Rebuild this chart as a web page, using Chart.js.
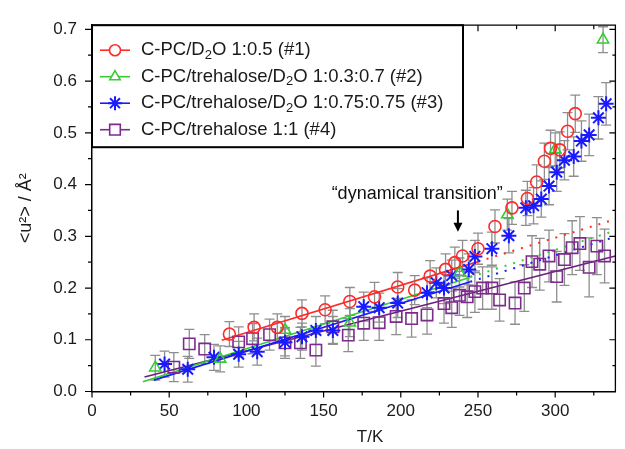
<!DOCTYPE html>
<html>
<head>
<meta charset="utf-8">
<style>
  html, body { margin: 0; padding: 0; background: #fff; }
  #wrap { width: 625px; height: 449px; }
</style>
<script src="https://cdn.jsdelivr.net/npm/chart.js"></script>
</head>
<body>
<div id="wrap"><canvas id="plot" width="625" height="449"></canvas></div>
<script>
  // --- axis ticks ---
  const xTicks = [0, 50, 100, 150, 200, 250, 300];
  const yTicks = [0, 0.1, 0.2, 0.3, 0.4, 0.5, 0.6, 0.7];

  // --- #1 C-PC/D2O 1:0.5 ---
  const redT   = [89, 105, 120, 136, 151, 167, 183, 198, 209, 219, 229, 235, 240, 250, 261, 272, 282, 288, 293, 297, 303, 308, 313];
  const redU   = [0.111, 0.124, 0.124, 0.151, 0.158, 0.174, 0.183, 0.202, 0.196, 0.223, 0.236, 0.249, 0.262, 0.276, 0.319, 0.355, 0.373, 0.405, 0.445, 0.470, 0.467, 0.503, 0.537];
  const redErr = [0.024, 0.026, 0.026, 0.026, 0.027, 0.027, 0.028, 0.028, 0.028, 0.030, 0.030, 0.030, 0.030, 0.030, 0.032, 0.032, 0.033, 0.033, 0.035, 0.035, 0.035, 0.036, 0.036];

  // --- #2 C-PC/trehalose/D2O 1:0.3:0.7 ---
  const greenT   = [41, 83, 125, 167, 238, 269, 300, 331];
  const greenU   = [0.046, 0.063, 0.119, 0.133, 0.230, 0.342, 0.468, 0.680];
  const greenErr = [0.024, 0.025, 0.026, 0.027, 0.028, 0.030, 0.032, 0.025];

  // --- #3 C-PC/trehalose/D2O 1:0.75:0.75 ---
  const blueT   = [47, 62, 79, 95, 107, 125, 136, 145, 156, 176, 186, 198, 217, 223, 228, 233, 244, 248, 259, 270, 281, 286, 291, 296, 301, 306, 312, 317, 322, 328, 333];
  const blueU   = [0.053, 0.043, 0.066, 0.072, 0.077, 0.095, 0.106, 0.118, 0.118, 0.164, 0.162, 0.171, 0.191, 0.210, 0.200, 0.224, 0.236, 0.261, 0.276, 0.301, 0.355, 0.359, 0.372, 0.397, 0.424, 0.447, 0.454, 0.484, 0.496, 0.529, 0.556];
  const blueErr = [0.025, 0.025, 0.025, 0.025, 0.026, 0.026, 0.026, 0.027, 0.027, 0.028, 0.028, 0.028, 0.029, 0.029, 0.030, 0.030, 0.030, 0.031, 0.032, 0.033, 0.034, 0.035, 0.035, 0.036, 0.037, 0.038, 0.038, 0.039, 0.040, 0.041, 0.041];

  // --- #4 C-PC/trehalose 1:1 ---
  const purpleT   = [53, 63, 73, 95, 104, 115, 125, 135, 145, 156, 166, 176, 186, 197, 207, 217, 228, 233, 238, 243, 248, 253, 259, 264, 274, 280, 285, 290, 296, 301, 306, 311, 316, 322, 327, 332];
  const purpleU   = [0.047, 0.092, 0.082, 0.096, 0.102, 0.110, 0.094, 0.094, 0.080, 0.125, 0.109, 0.132, 0.133, 0.145, 0.141, 0.148, 0.170, 0.162, 0.186, 0.183, 0.193, 0.200, 0.200, 0.177, 0.171, 0.200, 0.251, 0.246, 0.262, 0.222, 0.255, 0.278, 0.286, 0.240, 0.281, 0.262];
  const purpleErr = [0.028, 0.028, 0.028, 0.029, 0.029, 0.030, 0.030, 0.030, 0.031, 0.032, 0.032, 0.033, 0.034, 0.035, 0.036, 0.037, 0.038, 0.038, 0.039, 0.040, 0.040, 0.041, 0.041, 0.041, 0.041, 0.045, 0.050, 0.050, 0.050, 0.049, 0.050, 0.052, 0.052, 0.057, 0.055, 0.052];

  // --- linear fits (solid) and their extrapolations (dotted) ---
  const redFitT = [84, 250],    redFitU = [0.099, 0.251];
  const redDotT = [250, 339],   redDotU = [0.251, 0.333];
  const greenFitT = [33, 245],  greenFitU = [0.019, 0.221];
  const greenDotT = [245, 339], greenDotU = [0.221, 0.311];
  const blueFitT = [40, 245],   blueFitU = [0.022, 0.212];
  const blueDotT = [245, 339],  blueDotU = [0.212, 0.299];
  const purpleFitT = [34, 339], purpleFitU = [0.028, 0.262];

  const legendLabels = [
    'C-PC/D₂O 1:0.5 (#1)',
    'C-PC/trehalose/D₂O 1:0.3:0.7 (#2)',
    'C-PC/trehalose/D₂O 1:0.75:0.75 (#3)',
    'C-PC/trehalose 1:1 (#4)'
  ];

  const FONT = '"Liberation Sans", Arial, sans-serif';
  const pts = (xs, ys) => xs.map((x, i) => ({ x: x, y: ys[i] }));

  const series = [
    { color: '#ff2a2a', style: 'circle',   r: 6,   T: redT,    U: redU,    err: redErr },
    { color: '#33cc33', style: 'triangle', r: 6.5, T: greenT,  U: greenU,  err: greenErr },
    { color: '#1a1aff', style: 'star',     r: 7.5, T: blueT,   U: blueU,   err: blueErr },
    { color: '#7d2a8c', style: 'rect',     r: 8,   T: purpleT, U: purpleU, err: purpleErr }
  ];

  const fitLines = [
    { T: redFitT, U: redFitU, color: '#ff2a2a', dash: [] },
    { T: redDotT, U: redDotU, color: '#ff2a2a', dash: [2, 7] },
    { T: greenFitT, U: greenFitU, color: '#33cc33', dash: [] },
    { T: greenDotT, U: greenDotU, color: '#33cc33', dash: [2, 7] },
    { T: blueFitT, U: blueFitU, color: '#1a1aff', dash: [] },
    { T: blueDotT, U: blueDotU, color: '#1a1aff', dash: [2, 7] },
    { T: purpleFitT, U: purpleFitU, color: '#6b1f7d', dash: [] }
  ];

  const datasets = [];
  series.forEach(s => datasets.push({
    type: 'scatter',
    data: pts(s.T, s.U),
    errors: s.err,
    pointStyle: s.style,
    pointRadius: s.r,
    pointHoverRadius: s.r,
    pointBorderWidth: s.style === 'star' ? 2 : 1.6,
    borderColor: s.color,
    backgroundColor: 'rgba(0,0,0,0)',
    order: 1
  }));
  fitLines.forEach(f => datasets.push({
    type: 'line',
    data: pts(f.T, f.U),
    borderColor: f.color,
    borderWidth: f.dash.length ? 2 : 1.6,
    borderDash: f.dash,
    pointRadius: 0,
    fill: false,
    order: 2
  }));

  function drawMarker(ctx, style, x, y, r, bw) {
    if (Chart.helpers && Chart.helpers.drawPoint) {
      Chart.helpers.drawPoint(ctx, { pointStyle: style, radius: r, borderWidth: bw, rotation: 0 }, x, y);
      return;
    }
    ctx.beginPath();
    ctx.arc(x, y, r, 0, Math.PI * 2);
    ctx.stroke();
  }

  const decor = {
    id: 'decor',
    beforeDatasetsDraw(chart) {
      const { ctx, chartArea: a, scales: { x, y } } = chart;
      ctx.save();
      ctx.beginPath();
      ctx.rect(a.left, a.top, a.right - a.left, a.bottom - a.top);
      ctx.clip();
      ctx.strokeStyle = '#8e8e8e';
      ctx.lineWidth = 1.3;
      chart.data.datasets.forEach(ds => {
        if (!ds.errors) return;
        ds.data.forEach((p, i) => {
          const px = x.getPixelForValue(p.x);
          const y1 = y.getPixelForValue(p.y - ds.errors[i]);
          const y2 = y.getPixelForValue(p.y + ds.errors[i]);
          ctx.beginPath();
          ctx.moveTo(px, y1); ctx.lineTo(px, y2);
          ctx.moveTo(px - 5, y1); ctx.lineTo(px + 5, y1);
          ctx.moveTo(px - 5, y2); ctx.lineTo(px + 5, y2);
          ctx.stroke();
        });
      });
      ctx.restore();
    },
    afterDraw(chart) {
      const { ctx, chartArea: a, scales: { x, y } } = chart;
      ctx.save();

      // frame: top and right sides
      ctx.strokeStyle = '#000';
      ctx.lineWidth = 1.3;
      ctx.beginPath();
      ctx.moveTo(a.left, a.top); ctx.lineTo(a.right, a.top); ctx.lineTo(a.right, a.bottom);
      ctx.stroke();

      // tick marks: outside on left/bottom, inside on top/right
      ctx.lineWidth = 1.2;
      ctx.beginPath();
      for (let v = 0; v <= 339; v += 25) {
        const px = x.getPixelForValue(v);
        const len = v % 50 === 0 ? 6 : 4;
        ctx.moveTo(px, a.bottom); ctx.lineTo(px, a.bottom + len);
        ctx.moveTo(px, a.top); ctx.lineTo(px, a.top + len);
      }
      for (let k = 0; k <= 14; k++) {
        const py = y.getPixelForValue(k * 0.05);
        const len = k % 2 === 0 ? 7 : 4;
        ctx.moveTo(a.left, py); ctx.lineTo(a.left - len, py);
        ctx.moveTo(a.right, py); ctx.lineTo(a.right - len + 1, py);
      }
      ctx.stroke();

      // axis titles
      ctx.fillStyle = '#1a1a1a';
      ctx.font = '17px ' + FONT;
      ctx.textAlign = 'center';
      ctx.textBaseline = 'middle';
      ctx.fillText('T/K', 370, 437);
      ctx.save();
      ctx.translate(26, (a.top + a.bottom) / 2);
      ctx.rotate(-Math.PI / 2);
      ctx.font = '18px ' + FONT;
      ctx.fillText('<u²> / Å²', 0, 0);
      ctx.restore();

      // annotation
      ctx.font = '18px ' + FONT;
      ctx.textAlign = 'right';
      ctx.fillStyle = '#111';
      ctx.fillText('“dynamical transition”', x.getPixelForValue(266), y.getPixelForValue(0.382));
      const ax = x.getPixelForValue(237);
      const aTop = y.getPixelForValue(0.35), aTip = y.getPixelForValue(0.309);
      ctx.strokeStyle = '#000';
      ctx.lineWidth = 2;
      ctx.beginPath(); ctx.moveTo(ax, aTop); ctx.lineTo(ax, aTip - 6); ctx.stroke();
      ctx.fillStyle = '#000';
      ctx.beginPath(); ctx.moveTo(ax - 4.5, aTip - 9); ctx.lineTo(ax + 4.5, aTip - 9); ctx.lineTo(ax, aTip); ctx.closePath(); ctx.fill();

      // legend box
      const lx = a.left, ly = a.top, lw = 371, lh = 122;
      ctx.fillStyle = '#fff';
      ctx.fillRect(lx, ly, lw, lh);
      ctx.strokeStyle = '#000';
      ctx.lineWidth = 2;
      ctx.strokeRect(lx, ly, lw, lh);
      const rows = [25, 51.5, 78, 104.5];
      series.forEach((s, i) => {
        const ry = ly + rows[i];
        ctx.strokeStyle = s.color;
        ctx.lineWidth = 1.6;
        ctx.beginPath(); ctx.moveTo(lx + 8, ry); ctx.lineTo(lx + 38, ry); ctx.stroke();
        ctx.fillStyle = '#fff';
        ctx.lineWidth = s.style === 'star' ? 2 : 1.6;
        drawMarker(ctx, s.style, lx + 23, ry, s.r - 0.5, ctx.lineWidth);
        // label with subscript 2
        ctx.fillStyle = '#1a1a1a';
        ctx.textAlign = 'left';
        ctx.textBaseline = 'middle';
        let tx = lx + 49;
        const parts = legendLabels[i].split('₂');
        parts.forEach((part, j) => {
          ctx.font = '18.5px ' + FONT;
          ctx.fillText(part, tx, ry);
          tx += ctx.measureText(part).width;
          if (j < parts.length - 1) {
            ctx.font = '13px ' + FONT;
            ctx.fillText('2', tx, ry + 5);
            tx += ctx.measureText('2').width;
          }
        });
      });
      ctx.restore();
    }
  };

  new Chart(document.getElementById('plot'), {
    data: { datasets: datasets },
    options: {
      responsive: false,
      animation: false,
      devicePixelRatio: 1,
      layout: { padding: { left: 0, right: 2, top: 18, bottom: 0 } },
      plugins: { legend: { display: false }, tooltip: { enabled: false } },
      scales: {
        x: {
          type: 'linear', min: 0, max: 339,
          afterBuildTicks: s => { s.ticks = xTicks.map(v => ({ value: v })); },
          afterFit: s => { s.height = 57.5; },
          grid: { display: false, drawTicks: false },
          border: { display: true, color: '#000', width: 1.5 },
          ticks: { color: '#1a1a1a', font: { family: FONT, size: 17 }, padding: 10, maxRotation: 0, autoSkip: false }
        },
        y: {
          type: 'linear', min: 0, max: 0.708,
          afterBuildTicks: s => { s.ticks = yTicks.map(v => ({ value: v })); },
          afterFit: s => { s.width = 92; },
          grid: { display: false, drawTicks: false },
          border: { display: true, color: '#000', width: 1.5 },
          ticks: { color: '#1a1a1a', font: { family: FONT, size: 17 }, padding: 15, callback: v => v.toFixed(1) }
        }
      }
    },
    plugins: [decor]
  });
</script>
</body>
</html>
